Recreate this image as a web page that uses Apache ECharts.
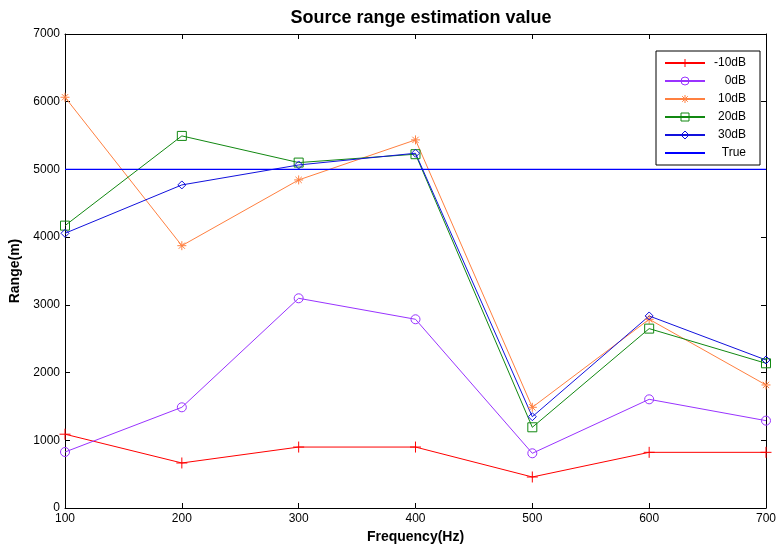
<!DOCTYPE html>
<html><head><meta charset="utf-8">
<script src="https://cdn.jsdelivr.net/npm/echarts@6/dist/echarts.min.js"></script>
<style>html,body{margin:0;padding:0;background:#fff}#c{width:779px;height:550px}</style>
</head><body><div id="c"></div>
<script>
const freqs = [100, 200, 300, 400, 500, 600, 700];
const sM10 = [1090, 665, 900, 900, 458, 822, 822];
const s0 = [827, 1487, 3097, 2787, 808, 1605, 1290];
const s10 = [6066, 3874, 4845, 5436, 1487, 2787, 1817];
const s20 = [4170, 5495, 5101, 5225, 1192, 2649, 2137];
const s30 = [4057, 4771, 5066, 5239, 1348, 2836, 2186];
const trueVal = [5000, 5000];
const trueX = [100, 700];
const names = ['-10dB', '0dB', '10dB', '20dB', '30dB', 'True'];
const colors = ['#ff0000', '#9933ff', '#ff8040', '#118811', '#1111dd', '#0000ff'];

const PLUS = 'path://M5,0L5,10M0,5L10,5';
const STAR = 'path://M5,0L5,10M0,5L10,5M1.5,1.5L8.5,8.5M8.5,1.5L1.5,8.5';
const symbols = [PLUS, 'circle', STAR, 'rect', 'diamond', 'none'];
const sizes = [11, 9, 9, 9, 8, 0];
const font = 'Arial, "Liberation Sans", sans-serif';
const HOLLOW = 'rgba(0,0,0,0)';

function mk(i, vals) {
  return {
    name: names[i], type: 'line', data: freqs.map((f, k) => [f, vals[k]]),
    symbol: symbols[i], symbolSize: sizes[i], showSymbol: true,
    lineStyle: { color: colors[i], width: 1 },
    itemStyle: { color: HOLLOW, borderColor: colors[i], borderWidth: 1 },
    emphasis: { disabled: true }, animation: false, z: 3
  };
}

const series = [
  mk(0, sM10), mk(1, s0), mk(2, s10), mk(3, s20), mk(4, s30),
  { name: names[5], type: 'line', color: colors[5], data: trueX.map((x, k) => [x, trueVal[k]]),
    symbol: 'none', lineStyle: { color: colors[5], width: 1.2 }, itemStyle: { color: colors[5] },
    emphasis: { disabled: true }, animation: false, z: 4 }
];

const legendData = names.map((n, i) => i < 5 ? {
  name: n, itemStyle: { color: HOLLOW, borderColor: colors[i], borderWidth: 1 }
} : { name: n, itemStyle: { opacity: 0 } });

const axisCommon = {
  axisLine: { show: true, onZero: false, lineStyle: { color: '#000', width: 1 } },
  axisTick: { show: true, inside: true, length: 5, lineStyle: { color: '#000' } },
  splitLine: { show: false }
};

const chart = echarts.init(document.getElementById('c'), null, { renderer: 'canvas' });
chart.setOption({
  animation: false,
  backgroundColor: '#fff',
  title: { text: 'Source range estimation value', left: 416, top: 4, textAlign: 'center',
    textStyle: { fontFamily: font, fontSize: 18, fontWeight: 'bold', color: '#000' } },
  grid: { left: 65, right: 11, top: 34, bottom: 42 },
  legend: {
    data: legendData, orient: 'vertical', right: 19, top: 51,
    backgroundColor: '#fff', borderColor: '#000', borderWidth: 1,
    padding: [6, 14, 6, 8], itemGap: 6, itemWidth: 40, itemHeight: 10,
    formatter: n => '{a|' + n + '}',
    textStyle: { fontFamily: font, fontSize: 12, color: '#000',
      rich: { a: { width: 36, align: 'right', lineHeight: 13, fontFamily: font, fontSize: 12, color: '#000' } } }
  },
  xAxis: [
    Object.assign({ type: 'value', min: 100, max: 700, interval: 100, position: 'bottom',
      name: 'Frequency(Hz)', nameLocation: 'middle', nameGap: 22,
      nameTextStyle: { fontFamily: font, fontSize: 14, fontWeight: 'bold', color: '#000' },
      axisLabel: { fontFamily: font, fontSize: 12, color: '#000', margin: 5, formatter: v => String(v) } }, axisCommon),
    Object.assign({ type: 'value', min: 100, max: 700, interval: 100, position: 'top',
      axisLabel: { show: false } }, axisCommon)
  ],
  yAxis: [
    Object.assign({ type: 'value', min: 0, max: 7000, interval: 1000, position: 'left',
      name: 'Range(m)', nameLocation: 'middle', nameGap: 34, nameRotate: 90,
      nameTextStyle: { fontFamily: font, fontSize: 14, fontWeight: 'bold', color: '#000' },
      axisLabel: { fontFamily: font, fontSize: 12, color: '#000', margin: 5, formatter: v => String(v) } }, axisCommon),
    Object.assign({ type: 'value', min: 0, max: 7000, interval: 1000, position: 'right',
      axisLabel: { show: false } }, axisCommon)
  ],
  series
});
</script></body></html>
